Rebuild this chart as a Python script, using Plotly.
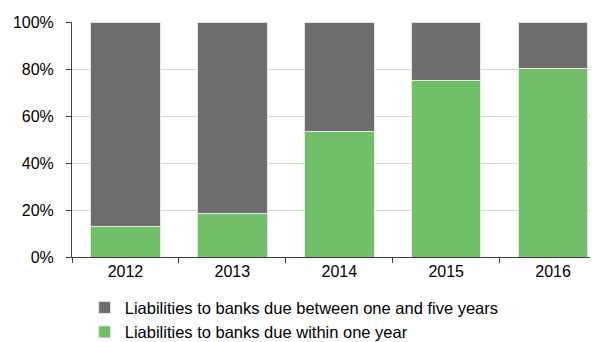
import plotly.graph_objects as go

years = ["2012", "2013", "2014", "2015", "2016"]
within_one_year = [12.9, 18.6, 53.4, 74.9, 80.4]
one_to_five_years = [87.1, 81.4, 46.6, 25.1, 19.6]
y_ticks = [0, 20, 40, 60, 80, 100]
y_tick_labels = ["0%", "20%", "40%", "60%", "80%", "100%"]

FONT = "Liberation Sans, Arial, sans-serif"

fig = go.Figure()
fig.add_trace(go.Bar(
    x=years, y=within_one_year,
    name="Liabilities to banks due within one year",
    marker=dict(color="#72bf6a", line=dict(color="#e6e6e6", width=1)),
))
fig.add_trace(go.Bar(
    x=years, y=one_to_five_years,
    name="Liabilities to banks due between one and five years",
    marker=dict(color="#6d6d6d", line=dict(color="#e6e6e6", width=1)),
))

# page body has an 8px margin, so the figure is sized to fit the 598x342 window
fig.update_layout(
    width=590, height=334,
    margin=dict(l=64, r=0, t=14, b=85, autoexpand=False),
    barmode="stack",
    bargap=0.35,
    plot_bgcolor="white",
    paper_bgcolor="white",
    font=dict(family=FONT, size=16, color="#000000"),
    showlegend=True,
    legend=dict(
        orientation="v",
        traceorder="reversed",
        xref="container", yref="container",
        x=0.13, xanchor="left",
        y=0.155, yanchor="top",
        font=dict(family=FONT, size=16.5, color="#000000"),
        bgcolor="rgba(0,0,0,0)",
        tracegroupgap=0,
    ),
    xaxis=dict(
        type="category",
        range=[-0.5, 4.42],
        showline=True, linecolor="#404040", linewidth=1,
        ticks="outside", ticklen=5, tickcolor="#404040",
        tickson="boundaries",
        showgrid=False,
        tickfont=dict(family=FONT, size=16),
    ),
    yaxis=dict(
        range=[0, 100],
        tickvals=y_ticks, ticktext=y_tick_labels,
        showline=True, linecolor="#404040", linewidth=1,
        ticks="outside", ticklen=5, tickcolor="#404040",
        ticklabelstandoff=9,
        showgrid=True, gridcolor="#d9d9d9", gridwidth=1,
        zeroline=False,
        tickfont=dict(family=FONT, size=16),
    ),
)

fig.write_html("out.html")
